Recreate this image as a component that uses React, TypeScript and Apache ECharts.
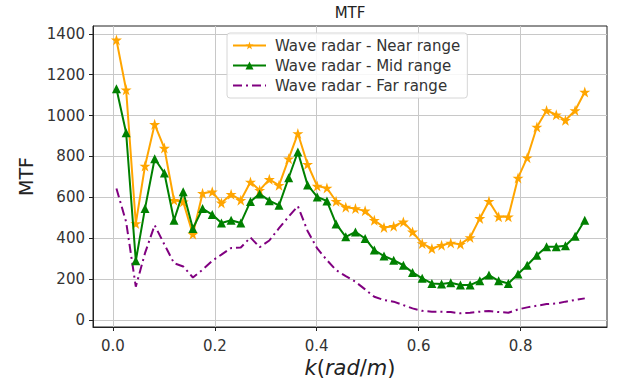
import React, { useEffect, useRef } from "react";
import * as echarts from "echarts";

const kValues = [0.007, 0.026, 0.045, 0.063, 0.082, 0.101, 0.120, 0.138, 0.157, 0.176, 0.195, 0.213, 0.232, 0.251, 0.270, 0.288, 0.307, 0.326, 0.345, 0.363, 0.382, 0.401, 0.420, 0.438, 0.457, 0.476, 0.495, 0.513, 0.532, 0.551, 0.570, 0.588, 0.607, 0.626, 0.645, 0.663, 0.682, 0.701, 0.720, 0.738, 0.757, 0.776, 0.795, 0.813, 0.832, 0.851, 0.870, 0.888, 0.907, 0.926];

const nearRange = [1370, 1126, 472, 753, 957, 841, 586, 578, 420, 620, 627, 573, 615, 586, 675, 635, 688, 659, 789, 912, 762, 655, 646, 581, 552, 545, 534, 488, 453, 459, 480, 431, 374, 350, 366, 377, 371, 404, 497, 581, 505, 505, 695, 794, 944, 1025, 1004, 977, 1025, 1115];

const midRange = [1131, 916, 290, 545, 789, 719, 488, 627, 448, 545, 516, 475, 488, 475, 580, 617, 584, 561, 696, 822, 661, 602, 582, 470, 407, 431, 399, 342, 313, 293, 268, 233, 204, 179, 176, 182, 171, 171, 192, 220, 192, 179, 225, 268, 317, 358, 358, 363, 410, 488];

const farRange = [643, 480, 163, 327, 464, 370, 278, 262, 208, 246, 290, 320, 352, 355, 404, 356, 389, 449, 506, 557, 436, 350, 293, 244, 215, 187, 150, 114, 98, 90, 73, 57, 45, 41, 41, 39, 33, 36, 41, 44, 39, 36, 52, 62, 70, 78, 81, 90, 98, 106];

const xTicks = [0.0, 0.2, 0.4, 0.6, 0.8];
const yTicks = [0, 200, 400, 600, 800, 1000, 1200, 1400];

const seriesNames = ["Wave radar - Near range", "Wave radar - Mid range", "Wave radar - Far range"];

const STAR = "path://M50,0 L61.8,35.5 L99,35.5 L69,57.5 L80.5,93 L50,71 L19.5,93 L31,57.5 L1,35.5 L38.2,35.5 Z";

const FONT = "DejaVu Sans";

export default function App() {
  const ref = useRef<HTMLDivElement>(null);
  useEffect(() => {
    if (!ref.current) return;
    const chart = echarts.init(ref.current, null, { renderer: "svg" });
    const pair = (vals: number[]) => kValues.map((k, i) => [k, vals[i]]);
    chart.setOption({
      animation: false,
      backgroundColor: "#ffffff",
      textStyle: { fontFamily: FONT },
      title: {
        text: "MTF",
        left: 350,
        top: 5,
        padding: 0,
        textAlign: "center",
        textStyle: { fontFamily: FONT, fontSize: 15, fontWeight: "normal", color: "#222" },
      },
      grid: {
        left: 93,
        top: 26,
        right: 11,
        bottom: 58,
        show: true,
        borderColor: "#222",
        borderWidth: 1,
        backgroundColor: "transparent",
      },
      legend: {
        orient: "vertical",
        left: 227,
        top: 33,
        itemWidth: 33,
        itemHeight: 10,
        itemGap: 5,
        padding: [5, 7, 5, 5],
        backgroundColor: "rgba(255,255,255,0.85)",
        borderColor: "#d6d6d6",
        borderWidth: 1,
        borderRadius: 3,
        textStyle: { fontFamily: FONT, fontSize: 15, color: "#333", padding: [0, 0, 0, 4] },
        data: [
          { name: seriesNames[0] },
          { name: seriesNames[1] },
          { name: seriesNames[2], itemStyle: { color: "rgba(0,0,0,0)", borderColor: "rgba(0,0,0,0)", borderWidth: 0 } },
        ],
      },
      xAxis: {
        type: "value",
        min: -0.039,
        max: 0.9696,
        name: "{i|k}({i|rad}/{i|m})",
        nameLocation: "middle",
        nameGap: 29,
        nameTextStyle: {
          fontFamily: FONT,
          fontSize: 21,
          color: "#222",
          rich: { i: { fontFamily: FONT, fontSize: 21, fontStyle: "italic", color: "#222" } },
        },
        axisLine: { show: true, onZero: false, lineStyle: { color: "#222", width: 1 } },
        axisTick: { show: true, inside: false, length: 4, customValues: xTicks, lineStyle: { color: "#222" } },
        axisLabel: {
          customValues: xTicks,
          margin: 11,
          fontFamily: FONT,
          fontSize: 15,
          color: "#333",
          formatter: (v: number) => v.toFixed(1),
        },
        splitLine: { show: true, lineStyle: { color: "#c8c8c8", width: 1 } },
      },
      yAxis: {
        type: "value",
        min: -34,
        max: 1438,
        name: "MTF",
        nameLocation: "middle",
        nameGap: 58,
        nameTextStyle: { fontFamily: FONT, fontSize: 19, color: "#222" },
        axisLine: { show: true, onZero: false, lineStyle: { color: "#222", width: 1 } },
        axisTick: { show: true, inside: false, length: 4, customValues: yTicks, lineStyle: { color: "#222" } },
        axisLabel: {
          customValues: yTicks,
          margin: 8,
          fontFamily: FONT,
          fontSize: 15,
          color: "#333",
          formatter: (v: number) => String(v),
        },
        splitLine: { show: true, lineStyle: { color: "#c8c8c8", width: 1 } },
      },
      series: [
        {
          name: seriesNames[0],
          type: "line",
          data: pair(nearRange),
          color: "#FFA500",
          symbol: STAR,
          symbolSize: 11,
          showAllSymbol: true,
          lineStyle: { width: 2, color: "#FFA500" },
          itemStyle: { color: "#FFA500" },
          z: 3,
        },
        {
          name: seriesNames[1],
          type: "line",
          data: pair(midRange),
          color: "#008000",
          symbol: "triangle",
          symbolSize: 9,
          showAllSymbol: true,
          lineStyle: { width: 2, color: "#008000" },
          itemStyle: { color: "#008000" },
          z: 4,
        },
        {
          name: seriesNames[2],
          type: "line",
          data: pair(farRange),
          color: "#800080",
          symbol: "none",
          lineStyle: { width: 2, color: "#800080", type: [9, 4, 2, 4] },
          z: 2,
        },
      ],
    });
    return () => chart.dispose();
  }, []);
  return (
    <div
      ref={ref}
      style={{ position: "absolute", left: 0, top: 0, width: 618, height: 385 }}
    />
  );
}
